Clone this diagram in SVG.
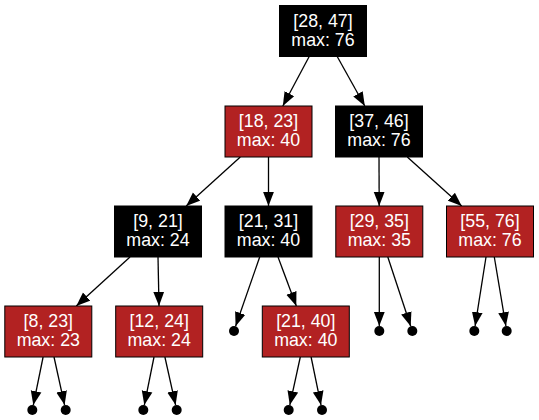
<svg xmlns="http://www.w3.org/2000/svg" width="539" height="420" viewBox="0 0 539 420">
<style>
.b rect{fill:#000;stroke:#000;stroke-width:1}
.r rect{fill:#b22222;stroke:#000;stroke-width:1}
text{font-family:"Liberation Sans",Arial,sans-serif;font-size:17.8px;fill:#fff;text-anchor:middle}
#edges line{stroke:#000;stroke-width:1.3;marker-end:url(#ah)}
.nil{fill:#000}
</style>
<defs>
<marker id="ah" markerUnits="userSpaceOnUse" markerWidth="14" markerHeight="12" viewBox="-13 -5 13 10" refX="0" refY="0" orient="auto">
<path d="M0,0 L-13,-5 L-13,5 Z" fill="#000"/>
</marker>
</defs>
<rect width="539" height="420" fill="#fff"/>
<g id="edges">
<line x1="309.2" y1="56.5" x2="282.8" y2="106"/>
<line x1="337.2" y1="56.5" x2="364.8" y2="106"/>
<line x1="240.3" y1="157" x2="186.2" y2="206"/>
<line x1="268.5" y1="157" x2="268.5" y2="206"/>
<line x1="379" y1="157" x2="379.2" y2="206"/>
<line x1="407.3" y1="157" x2="461.7" y2="206"/>
<line x1="130" y1="257" x2="76.3" y2="306"/>
<line x1="158" y1="257" x2="159" y2="306"/>
<line x1="278" y1="257" x2="296.3" y2="306"/>
<line x1="259.7" y1="257" x2="235.6" y2="326.3"/>
<line x1="379.3" y1="257" x2="379.3" y2="326"/>
<line x1="387.8" y1="257" x2="410.7" y2="326.2"/>
<line x1="486" y1="257" x2="475.1" y2="326.1"/>
<line x1="494.3" y1="257" x2="505.9" y2="326.1"/>
<line x1="43.1" y1="357" x2="33.3" y2="405.1"/>
<line x1="54" y1="357" x2="64.6" y2="405.1"/>
<line x1="154" y1="357" x2="144.3" y2="405.1"/>
<line x1="164.9" y1="357" x2="175.6" y2="405.1"/>
<line x1="300.3" y1="357" x2="289.8" y2="405.1"/>
<line x1="311.1" y1="357" x2="321" y2="405.1"/>
</g>
<g id="n28_47" class="b"><rect x="279.5" y="5.5" width="87" height="51"/><text x="323" y="26.6">[28, 47]</text><text x="323" y="45.6">max: 76</text></g>
<g id="n18_23" class="r"><rect x="225" y="106" width="87" height="51"/><text x="268.5" y="126.9">[18, 23]</text><text x="268.5" y="145.9">max: 40</text></g>
<g id="n37_46" class="b"><rect x="335.5" y="106" width="87" height="51"/><text x="379" y="126.9">[37, 46]</text><text x="379" y="145.9">max: 76</text></g>
<g id="n9_21" class="b"><rect x="114.5" y="206" width="87" height="51"/><text x="158" y="226.9">[9, 21]</text><text x="158" y="245.9">max: 24</text></g>
<g id="n21_31" class="b"><rect x="225" y="206" width="87" height="51"/><text x="268.5" y="226.9">[21, 31]</text><text x="268.5" y="245.9">max: 40</text></g>
<g id="n29_35" class="r"><rect x="335.8" y="206" width="87" height="51"/><text x="379.3" y="226.9">[29, 35]</text><text x="379.3" y="245.9">max: 35</text></g>
<g id="n55_76" class="r"><rect x="446.5" y="206" width="87" height="51"/><text x="490" y="226.9">[55, 76]</text><text x="490" y="245.9">max: 76</text></g>
<g id="n8_23" class="r"><rect x="4.8" y="306" width="87" height="51"/><text x="48.3" y="326.9">[8, 23]</text><text x="48.3" y="345.9">max: 23</text></g>
<g id="n12_24" class="r"><rect x="115.7" y="306" width="87" height="51"/><text x="159.2" y="326.9">[12, 24]</text><text x="159.2" y="345.9">max: 24</text></g>
<g id="n21_40" class="r"><rect x="262.3" y="306" width="87" height="51"/><text x="305.8" y="326.9">[21, 40]</text><text x="305.8" y="345.9">max: 40</text></g>
<g id="nil1"><circle class="nil" cx="234" cy="331" r="5"/></g>
<g id="nil2"><circle class="nil" cx="379.3" cy="331" r="5"/></g>
<g id="nil3"><circle class="nil" cx="412.3" cy="331" r="5"/></g>
<g id="nil4"><circle class="nil" cx="474.3" cy="331" r="5"/></g>
<g id="nil5"><circle class="nil" cx="506.7" cy="331" r="5"/></g>
<g id="nil6"><circle class="nil" cx="32.3" cy="410" r="5"/></g>
<g id="nil7"><circle class="nil" cx="65.7" cy="410" r="5"/></g>
<g id="nil8"><circle class="nil" cx="143.3" cy="410" r="5"/></g>
<g id="nil9"><circle class="nil" cx="176.7" cy="410" r="5"/></g>
<g id="nil10"><circle class="nil" cx="288.7" cy="410" r="5"/></g>
<g id="nil11"><circle class="nil" cx="322" cy="410" r="5"/></g>
</svg>
